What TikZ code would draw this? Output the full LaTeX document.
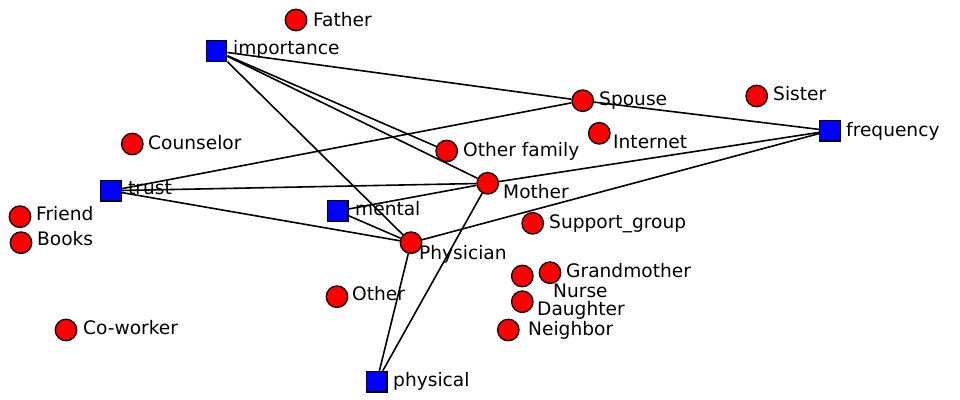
\documentclass[tikz,border=0pt]{standalone}
\usepackage{fontspec}
\setmainfont{DejaVu Sans}
\usepackage{tikz}
\usetikzlibrary{positioning}
\usepackage{xcolor}
\definecolor{actorred}{RGB}{255,0,0}
\definecolor{attrblue}{RGB}{0,0,255}
\tikzstyle{actor} = [circle, draw=black, fill=actorred, minimum size=21.5pt, inner sep=0pt, line width=1.3pt]
\tikzstyle{attribute} = [rectangle, draw=black, fill=attrblue, minimum size=20.5pt, inner sep=0pt, line width=1.4pt]
\tikzstyle{tie} = [line width=1.6pt, color=black]
\tikzstyle{lbl} = [anchor=base west, inner sep=0pt, font=\fontsize{18.6}{18.6}\selectfont]

\begin{document}
\begin{tikzpicture}[x=1pt, y=-1pt]
    \useasboundingbox (0,0) rectangle (960,399);

    % Attributes (squares)
    \node[attribute] (importance) at (216.5,51) {};
    \node[attribute] (frequency) at (830,130.7) {};
    \node[attribute] (trust) at (111,190.7) {};
    \node[attribute] (mental) at (337.7,211) {};
    \node[attribute] (physical) at (376.7,381.7) {};

    % Actors (circles)
    \node[actor] (father) at (296,20) {};
    \node[actor] (spouse) at (582.7,100.7) {};
    \node[actor] (sister) at (756.7,96) {};
    \node[actor] (counselor) at (132.3,144) {};
    \node[actor] (internet) at (599.3,133.3) {};
    \node[actor] (otherfamily) at (446.7,151) {};
    \node[actor] (mother) at (487.7,183.3) {};
    \node[actor] (friend) at (20,216.7) {};
    \node[actor] (books) at (21,242.7) {};
    \node[actor] (supportgroup) at (532.7,223.3) {};
    \node[actor] (physician) at (411,242.7) {};
    \node[actor] (grandmother) at (550,272.7) {};
    \node[actor] (nurse) at (522.3,276) {};
    \node[actor] (daughter) at (522.3,301.7) {};
    \node[actor] (neighbor) at (508.3,330) {};
    \node[actor] (other) at (337,296.7) {};
    \node[actor] (coworker) at (66,330) {};

    % Ties
    \draw[tie] (importance) -- (spouse);
    \draw[tie] (importance) -- (otherfamily);
    \draw[tie] (importance) -- (mother);
    \draw[tie] (importance) -- (physician);
    \draw[tie] (trust) -- (spouse);
    \draw[tie] (trust) -- (mother);
    \draw[tie] (trust) -- (physician);
    \draw[tie] (mental) -- (mother);
    \draw[tie] (mental) -- (physician);
    \draw[tie] (frequency) -- (spouse);
    \draw[tie] (frequency) -- (mother);
    \draw[tie] (frequency) -- (physician);
    \draw[tie] (physical) -- (physician);
    \draw[tie] (physical) -- (mother);

    % Labels
    \node[lbl] (importance-l) at (233,54) {importance};
    \node[lbl] (frequency-l) at (846,136) {frequency};
    \node[lbl] (trust-l) at (128,194) {trust};
    \node[lbl] (mental-l) at (355,215) {mental};
    \node[lbl] (physical-l) at (393,386) {physical};
    \node[lbl] (father-l) at (313,26) {Father};
    \node[lbl] (spouse-l) at (599,105) {Spouse};
    \node[lbl] (sister-l) at (773,100) {Sister};
    \node[lbl] (counselor-l) at (148,149) {Counselor};
    \node[lbl] (internet-l) at (613,148) {Internet};
    \node[lbl] (otherfamily-l) at (463,156) {Other family};
    \node[lbl] (mother-l) at (503,198) {Mother};
    \node[lbl] (friend-l) at (36,220) {Friend};
    \node[lbl] (books-l) at (37,245) {Books};
    \node[lbl] (supportgroup-l) at (549,228) {Support\_group};
    \node[lbl] (physician-l) at (419,259) {Physician};
    \node[lbl] (grandmother-l) at (566,277) {Grandmother};
    \node[lbl] (nurse-l) at (553,297) {Nurse};
    \node[lbl] (daughter-l) at (537,315) {Daughter};
    \node[lbl] (neighbor-l) at (528,335) {Neighbor};
    \node[lbl] (other-l) at (352,300) {Other};
    \node[lbl] (coworker-l) at (83,334) {Co-worker};
\end{tikzpicture}
\end{document}
